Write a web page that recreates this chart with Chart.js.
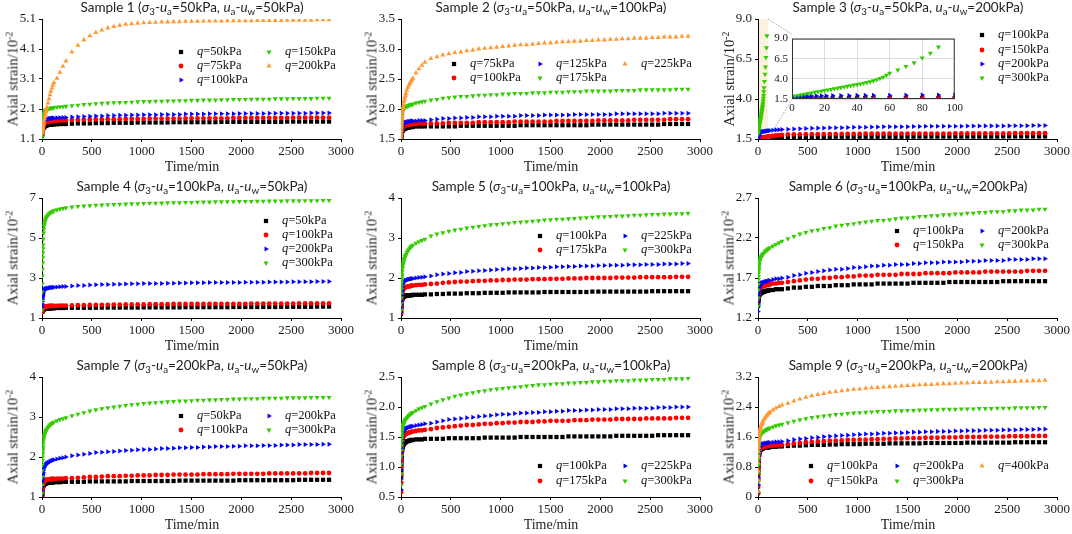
<!DOCTYPE html>
<html>
<head>
<meta charset="utf-8">
<script src="https://cdn.jsdelivr.net/npm/chart.js@4.4.0/dist/chart.umd.min.js"></script>
<style>
  html, body { margin: 0; padding: 0; background: #fff; }
  #page { position: relative; width: 1072px; height: 534px; overflow: hidden; background: #fff; }
  canvas { position: absolute; }
  .ttl { position: absolute; white-space: nowrap; transform: translate(-50%, -50%); font: 13.5px Lato, "Liberation Sans", sans-serif; color: #222; }
  .ttl sub { font-size: 72%; vertical-align: -0.3em; line-height: 0; }
  .xt { position: absolute; white-space: nowrap; transform: translate(-50%, -50%); font: 14px "Liberation Serif", serif; color: #222; }
  .yt { position: absolute; white-space: nowrap; transform: translate(-50%, -50%) rotate(-90deg); font: 14.5px "Liberation Serif", serif; color: #222; }
  .yt sup { font-size: 68%; vertical-align: 0.5em; line-height: 0; }
</style>
</head>
<body>
<div id="page"></div>
<script>
// creep tests: axial strain (10^-2) vs time (min), 9 samples
const TIME = [
  0,1,2,3,4,5,6,7,8,9,10,
  12,15,18,21,25,30,35,40,45,50,
  60,70,80,90,100,110,120,150,180,210,240,
  300,360,420,480,540,600,660,720,780,840,900,
  960,1020,1080,1140,1200,1260,1320,1380,1440,1500,1560,
  1620,1680,1740,1800,1860,1920,1980,2040,2100,2160,2220,
  2280,2340,2400,2460,2520,2580,2640,2700,2760,2820,2880
];
// sample 3, q=300kPa failed after ~90 min
const TIME_S3_Q300 = [
  0,2,4,6,8,10,12,14,16,18,20,
  22,24,26,28,30,32,34,36,38,40,
  42,44,46,48,50,52,54,56,58,60,
  65,70,75,80,85,90
];
const X_TICKS = [0, 500, 1000, 1500, 2000, 2500, 3000];

// ---- Sample 1 ----
const S1_LOADS = [50, 75, 100, 150, 200];
const S1_Q50 = [
  1.20,1.24,1.28,1.31,1.34,1.36,1.38,1.40,1.41,1.42,1.43,
  1.45,1.47,1.49,1.50,1.51,1.53,1.54,1.55,1.55,1.56,
  1.57,1.57,1.58,1.58,1.58,1.59,1.59,1.59,1.60,1.60,1.60,
  1.61,1.62,1.62,1.62,1.63,1.63,1.63,1.64,1.64,1.64,1.64,
  1.65,1.65,1.65,1.65,1.65,1.65,1.66,1.66,1.66,1.66,1.66,
  1.66,1.66,1.66,1.67,1.67,1.67,1.67,1.67,1.67,1.67,1.67,
  1.67,1.67,1.67,1.68,1.68,1.68,1.68,1.68,1.68,1.68,1.68
];
const S1_Q75 = [
  1.25,1.30,1.34,1.38,1.41,1.44,1.46,1.48,1.50,1.52,1.53,
  1.55,1.58,1.60,1.61,1.63,1.64,1.65,1.66,1.67,1.67,
  1.68,1.69,1.69,1.70,1.70,1.70,1.71,1.71,1.72,1.72,1.72,
  1.73,1.74,1.74,1.75,1.75,1.75,1.76,1.76,1.76,1.77,1.77,
  1.77,1.77,1.78,1.78,1.78,1.78,1.78,1.78,1.79,1.79,1.79,
  1.79,1.79,1.79,1.79,1.79,1.80,1.80,1.80,1.80,1.80,1.80,
  1.80,1.80,1.80,1.80,1.81,1.81,1.81,1.81,1.81,1.81,1.81
];
const S1_Q100 = [
  1.30,1.37,1.42,1.46,1.50,1.53,1.56,1.58,1.60,1.62,1.63,
  1.65,1.67,1.69,1.70,1.72,1.73,1.74,1.75,1.76,1.76,
  1.77,1.78,1.78,1.79,1.79,1.80,1.80,1.81,1.81,1.82,1.82,
  1.83,1.84,1.85,1.86,1.87,1.87,1.88,1.88,1.89,1.89,1.90,
  1.90,1.91,1.91,1.91,1.92,1.92,1.92,1.92,1.93,1.93,1.93,
  1.93,1.94,1.94,1.94,1.94,1.94,1.95,1.95,1.95,1.95,1.95,
  1.96,1.96,1.96,1.96,1.96,1.96,1.96,1.97,1.97,1.97,1.97
];
const S1_Q150 = [
  1.15,1.25,1.35,1.43,1.50,1.56,1.62,1.67,1.71,1.75,1.78,
  1.84,1.90,1.94,1.97,2.00,2.03,2.05,2.06,2.07,2.08,
  2.10,2.11,2.12,2.13,2.14,2.14,2.15,2.16,2.17,2.18,2.19,
  2.21,2.23,2.25,2.26,2.28,2.29,2.30,2.31,2.32,2.32,2.33,
  2.34,2.35,2.35,2.36,2.36,2.37,2.37,2.38,2.38,2.39,2.39,
  2.40,2.40,2.40,2.41,2.41,2.42,2.42,2.42,2.43,2.43,2.43,
  2.43,2.44,2.44,2.44,2.45,2.45,2.45,2.45,2.46,2.46,2.46
];
const S1_Q200 = [
  1.30,1.32,1.34,1.36,1.38,1.40,1.42,1.44,1.46,1.48,1.50,
  1.54,1.60,1.65,1.70,1.77,1.85,1.93,2.01,2.09,2.16,
  2.30,2.44,2.57,2.69,2.80,2.90,2.98,3.12,3.32,3.52,3.70,
  4.00,4.22,4.40,4.54,4.65,4.73,4.80,4.85,4.89,4.92,4.94,
  4.96,4.97,4.98,4.99,5.00,5.00,5.01,5.01,5.02,5.02,5.02,
  5.03,5.03,5.03,5.03,5.04,5.04,5.04,5.04,5.04,5.05,5.05,
  5.05,5.05,5.05,5.06,5.06,5.06,5.06,5.06,5.07,5.07,5.07
];
const S1_YTICKS = [1.1, 2.1, 3.1, 4.1, 5.1];
const S1_YLABELS = ["1.1", "2.1", "3.1", "4.1", "5.1"];

// ---- Sample 2 ----
const S2_LOADS = [75, 100, 125, 175, 225];
const S2_Q75 = [
  1.50,1.52,1.54,1.56,1.57,1.58,1.59,1.60,1.61,1.62,1.62,
  1.63,1.64,1.65,1.66,1.66,1.67,1.67,1.68,1.68,1.68,
  1.69,1.69,1.69,1.70,1.70,1.70,1.70,1.71,1.71,1.71,1.71,
  1.71,1.71,1.71,1.71,1.71,1.72,1.72,1.72,1.72,1.72,1.72,
  1.72,1.72,1.72,1.72,1.73,1.73,1.73,1.73,1.73,1.73,1.73,
  1.73,1.73,1.73,1.73,1.73,1.74,1.74,1.74,1.74,1.74,1.74,
  1.74,1.74,1.74,1.74,1.74,1.74,1.75,1.75,1.75,1.75,1.75
];
const S2_Q100 = [
  1.50,1.53,1.55,1.57,1.59,1.61,1.62,1.63,1.64,1.65,1.66,
  1.67,1.68,1.69,1.70,1.71,1.71,1.72,1.72,1.73,1.73,
  1.73,1.74,1.74,1.74,1.75,1.75,1.75,1.75,1.76,1.76,1.76,
  1.76,1.76,1.76,1.77,1.77,1.77,1.77,1.77,1.78,1.78,1.78,
  1.78,1.78,1.78,1.79,1.79,1.79,1.79,1.79,1.79,1.79,1.80,
  1.80,1.80,1.80,1.80,1.80,1.80,1.81,1.81,1.81,1.81,1.81,
  1.81,1.82,1.82,1.82,1.82,1.82,1.82,1.83,1.83,1.83,1.83
];
const S2_Q125 = [
  1.50,1.54,1.57,1.60,1.62,1.64,1.66,1.68,1.69,1.70,1.71,
  1.72,1.73,1.74,1.75,1.76,1.76,1.77,1.77,1.78,1.78,
  1.78,1.79,1.79,1.79,1.80,1.80,1.80,1.80,1.81,1.81,1.81,
  1.82,1.83,1.84,1.84,1.85,1.85,1.86,1.86,1.87,1.87,1.87,
  1.88,1.88,1.88,1.88,1.89,1.89,1.89,1.89,1.90,1.90,1.90,
  1.90,1.90,1.91,1.91,1.91,1.91,1.91,1.91,1.91,1.92,1.92,
  1.92,1.92,1.92,1.92,1.92,1.92,1.93,1.93,1.93,1.93,1.93
];
const S2_Q175 = [
  1.50,1.56,1.62,1.67,1.72,1.76,1.80,1.83,1.86,1.88,1.90,
  1.93,1.96,1.98,1.99,2.00,2.01,2.02,2.03,2.03,2.04,
  2.05,2.05,2.06,2.07,2.07,2.08,2.08,2.10,2.11,2.12,2.13,
  2.15,2.16,2.18,2.19,2.20,2.21,2.21,2.22,2.23,2.23,2.24,
  2.24,2.25,2.25,2.26,2.26,2.26,2.27,2.27,2.27,2.28,2.28,
  2.28,2.29,2.29,2.29,2.30,2.30,2.30,2.30,2.30,2.31,2.31,
  2.31,2.31,2.32,2.32,2.32,2.32,2.32,2.32,2.33,2.33,2.33
];
const S2_Q225 = [
  1.50,1.55,1.60,1.64,1.68,1.71,1.74,1.77,1.79,1.82,1.84,
  1.88,1.93,1.98,2.02,2.07,2.12,2.16,2.20,2.23,2.26,
  2.31,2.36,2.40,2.43,2.46,2.49,2.51,2.60,2.67,2.73,2.78,
  2.84,2.87,2.90,2.92,2.94,2.95,2.97,2.98,3.00,3.01,3.02,
  3.03,3.04,3.05,3.06,3.07,3.07,3.08,3.09,3.10,3.10,3.11,
  3.12,3.12,3.13,3.13,3.14,3.14,3.15,3.15,3.16,3.16,3.17,
  3.17,3.18,3.18,3.18,3.19,3.19,3.20,3.20,3.20,3.21,3.21
];
const S2_YTICKS = [1.5, 2.0, 2.5, 3.0, 3.5];
const S2_YLABELS = ["1.5", "2.0", "2.5", "3.0", "3.5"];

// ---- Sample 3 ----
const S3_LOADS = [100, 150, 200, 300];
const S3_Q100 = [
  1.50,1.51,1.52,1.53,1.54,1.55,1.55,1.56,1.56,1.57,1.57,
  1.57,1.58,1.58,1.59,1.59,1.59,1.60,1.60,1.60,1.60,
  1.61,1.61,1.61,1.61,1.62,1.62,1.62,1.62,1.63,1.63,1.63,
  1.63,1.63,1.63,1.63,1.63,1.63,1.63,1.63,1.64,1.64,1.64,
  1.64,1.64,1.64,1.64,1.64,1.64,1.64,1.64,1.64,1.64,1.64,
  1.65,1.65,1.65,1.65,1.65,1.65,1.65,1.65,1.65,1.65,1.65,
  1.65,1.65,1.65,1.66,1.66,1.66,1.66,1.66,1.66,1.66,1.66
];
const S3_Q150 = [
  1.50,1.50,1.51,1.51,1.52,1.52,1.53,1.53,1.53,1.54,1.54,
  1.54,1.55,1.55,1.56,1.56,1.57,1.57,1.58,1.58,1.59,
  1.60,1.61,1.62,1.63,1.64,1.65,1.66,1.69,1.72,1.74,1.76,
  1.78,1.79,1.79,1.80,1.80,1.80,1.81,1.81,1.81,1.82,1.82,
  1.82,1.82,1.83,1.83,1.83,1.83,1.83,1.83,1.84,1.84,1.84,
  1.84,1.84,1.84,1.84,1.84,1.84,1.85,1.85,1.85,1.85,1.85,
  1.85,1.85,1.85,1.85,1.85,1.86,1.86,1.86,1.86,1.86,1.86
];
const S3_Q200 = [
  1.55,1.60,1.65,1.69,1.72,1.75,1.77,1.79,1.81,1.83,1.84,
  1.86,1.88,1.90,1.91,1.92,1.93,1.94,1.95,1.95,1.96,
  1.97,1.98,1.99,2.00,2.01,2.02,2.03,2.05,2.07,2.08,2.09,
  2.11,2.13,2.14,2.16,2.17,2.18,2.19,2.20,2.21,2.21,2.22,
  2.23,2.23,2.24,2.25,2.25,2.26,2.26,2.27,2.27,2.27,2.28,
  2.28,2.29,2.29,2.29,2.30,2.30,2.30,2.30,2.31,2.31,2.31,
  2.32,2.32,2.32,2.32,2.33,2.33,2.33,2.33,2.34,2.34,2.34
];
const S3_Q300 = [
  1.80,1.88,1.95,2.03,2.10,2.18,2.25,2.33,2.40,2.48,2.55,
  2.63,2.70,2.78,2.85,2.93,3.00,3.08,3.15,3.23,3.30,
  3.38,3.46,3.55,3.64,3.76,3.90,4.05,4.22,4.45,4.70,
  5.10,5.55,6.00,6.60,7.20,7.95
];
const S3_YTICKS = [1.5, 4.0, 6.5, 9.0];
const S3_YLABELS = ["1.5", "4.0", "6.5", "9.0"];
const S3_INSET_XTICKS = [0, 20, 40, 60, 80, 100];

// ---- Sample 4 ----
const S4_LOADS = [50, 100, 200, 300];
const S4_Q50 = [
  1.30,1.32,1.33,1.35,1.36,1.37,1.38,1.39,1.40,1.41,1.41,
  1.42,1.43,1.44,1.45,1.45,1.46,1.46,1.47,1.47,1.47,
  1.48,1.48,1.48,1.49,1.49,1.49,1.49,1.50,1.50,1.50,1.51,
  1.51,1.51,1.51,1.51,1.51,1.52,1.52,1.52,1.52,1.52,1.52,
  1.52,1.53,1.53,1.53,1.53,1.53,1.53,1.53,1.54,1.54,1.54,
  1.54,1.54,1.54,1.54,1.54,1.55,1.55,1.55,1.55,1.55,1.55,
  1.55,1.55,1.56,1.56,1.56,1.56,1.56,1.56,1.57,1.57,1.57
];
const S4_Q100 = [
  1.30,1.34,1.37,1.40,1.42,1.44,1.46,1.48,1.49,1.50,1.51,
  1.52,1.54,1.55,1.56,1.57,1.57,1.58,1.58,1.59,1.59,
  1.59,1.60,1.60,1.60,1.61,1.61,1.61,1.61,1.62,1.62,1.62,
  1.63,1.64,1.64,1.65,1.66,1.66,1.66,1.67,1.67,1.68,1.68,
  1.68,1.68,1.69,1.69,1.69,1.69,1.70,1.70,1.70,1.70,1.70,
  1.70,1.71,1.71,1.71,1.71,1.71,1.71,1.71,1.72,1.72,1.72,
  1.72,1.72,1.72,1.72,1.72,1.73,1.73,1.73,1.73,1.73,1.73
];
const S4_Q200 = [
  1.40,1.56,1.70,1.82,1.92,2.00,2.07,2.13,2.18,2.22,2.25,
  2.30,2.35,2.38,2.40,2.42,2.44,2.45,2.46,2.47,2.48,
  2.49,2.50,2.51,2.52,2.53,2.53,2.54,2.55,2.56,2.57,2.58,
  2.60,2.62,2.63,2.65,2.66,2.67,2.68,2.69,2.69,2.70,2.71,
  2.71,2.72,2.72,2.73,2.73,2.74,2.74,2.75,2.75,2.76,2.76,
  2.76,2.77,2.77,2.77,2.78,2.78,2.78,2.79,2.79,2.79,2.79,
  2.80,2.80,2.80,2.80,2.81,2.81,2.81,2.81,2.82,2.82,2.82
];
const S4_Q300 = [
  1.40,1.85,2.30,2.72,3.10,3.44,3.75,4.02,4.25,4.46,4.65,
  4.95,5.25,5.45,5.60,5.72,5.83,5.92,5.98,6.04,6.08,
  6.15,6.20,6.24,6.28,6.31,6.34,6.36,6.41,6.45,6.48,6.51,
  6.55,6.58,6.60,6.62,6.64,6.65,6.67,6.68,6.69,6.70,6.71,
  6.72,6.73,6.74,6.74,6.75,6.76,6.77,6.77,6.78,6.78,6.79,
  6.80,6.80,6.81,6.81,6.82,6.82,6.83,6.83,6.83,6.84,6.84,
  6.85,6.85,6.85,6.86,6.86,6.86,6.87,6.87,6.87,6.88,6.88
];
const S4_YTICKS = [1, 3, 5, 7];
const S4_YLABELS = ["1", "3", "5", "7"];

// ---- Sample 5 ----
const S5_LOADS = [100, 175, 225, 300];
const S5_Q100 = [
  1.10,1.16,1.22,1.27,1.31,1.34,1.37,1.40,1.42,1.44,1.45,
  1.47,1.49,1.51,1.52,1.53,1.54,1.54,1.55,1.55,1.56,
  1.56,1.56,1.57,1.57,1.57,1.57,1.58,1.58,1.58,1.58,1.59,
  1.59,1.60,1.60,1.61,1.61,1.61,1.62,1.62,1.62,1.63,1.63,
  1.63,1.63,1.64,1.64,1.64,1.64,1.64,1.64,1.65,1.65,1.65,
  1.65,1.65,1.65,1.65,1.65,1.66,1.66,1.66,1.66,1.66,1.66,
  1.66,1.66,1.66,1.66,1.67,1.67,1.67,1.67,1.67,1.67,1.67
];
const S5_Q175 = [
  1.12,1.20,1.28,1.35,1.40,1.45,1.49,1.52,1.55,1.58,1.60,
  1.63,1.66,1.69,1.71,1.73,1.74,1.75,1.76,1.77,1.77,
  1.78,1.79,1.79,1.80,1.80,1.81,1.81,1.82,1.83,1.83,1.84,
  1.85,1.86,1.88,1.89,1.90,1.91,1.91,1.92,1.93,1.93,1.94,
  1.94,1.95,1.95,1.96,1.96,1.96,1.97,1.97,1.97,1.98,1.98,
  1.98,1.99,1.99,1.99,2.00,2.00,2.00,2.00,2.00,2.01,2.01,
  2.01,2.01,2.02,2.02,2.02,2.02,2.02,2.02,2.03,2.03,2.03
];
const S5_Q225 = [
  1.15,1.25,1.35,1.43,1.50,1.56,1.61,1.65,1.69,1.72,1.75,
  1.79,1.83,1.86,1.88,1.90,1.91,1.92,1.93,1.94,1.94,
  1.95,1.96,1.97,1.97,1.98,1.98,1.99,2.00,2.01,2.02,2.03,
  2.05,2.08,2.10,2.11,2.13,2.14,2.16,2.17,2.18,2.19,2.20,
  2.21,2.22,2.23,2.23,2.24,2.25,2.25,2.26,2.26,2.27,2.28,
  2.28,2.29,2.29,2.30,2.30,2.30,2.31,2.31,2.32,2.32,2.32,
  2.33,2.33,2.33,2.34,2.34,2.34,2.35,2.35,2.35,2.36,2.36
];
const S5_Q300 = [
  1.20,1.36,1.50,1.62,1.72,1.80,1.88,1.94,2.00,2.05,2.09,
  2.16,2.24,2.30,2.35,2.40,2.45,2.49,2.53,2.56,2.59,
  2.64,2.68,2.72,2.75,2.78,2.80,2.82,2.87,2.91,2.94,2.97,
  3.05,3.10,3.13,3.17,3.20,3.22,3.25,3.27,3.29,3.31,3.33,
  3.34,3.36,3.37,3.39,3.40,3.41,3.42,3.43,3.45,3.46,3.47,
  3.47,3.48,3.49,3.50,3.51,3.52,3.53,3.53,3.54,3.55,3.55,
  3.56,3.57,3.57,3.58,3.59,3.59,3.60,3.60,3.61,3.61,3.62
];
const S5_YTICKS = [1, 2, 3, 4];
const S5_YLABELS = ["1", "2", "3", "4"];

// ---- Sample 6 ----
const S6_LOADS = [100, 150, 200, 300];
const S6_Q100 = [
  1.35,1.38,1.40,1.42,1.43,1.44,1.45,1.46,1.47,1.47,1.48,
  1.49,1.49,1.50,1.50,1.51,1.51,1.52,1.52,1.52,1.53,
  1.53,1.53,1.54,1.54,1.54,1.55,1.55,1.55,1.56,1.56,1.56,
  1.57,1.58,1.58,1.59,1.59,1.60,1.60,1.60,1.61,1.61,1.61,
  1.62,1.62,1.62,1.62,1.63,1.63,1.63,1.63,1.63,1.63,1.64,
  1.64,1.64,1.64,1.64,1.64,1.65,1.65,1.65,1.65,1.65,1.65,
  1.65,1.65,1.65,1.66,1.66,1.66,1.66,1.66,1.66,1.66,1.66
];
const S6_Q150 = [
  1.40,1.43,1.46,1.48,1.50,1.51,1.52,1.53,1.54,1.55,1.55,
  1.56,1.57,1.57,1.58,1.58,1.59,1.59,1.59,1.60,1.60,
  1.60,1.61,1.61,1.61,1.62,1.62,1.62,1.63,1.63,1.64,1.64,
  1.65,1.66,1.67,1.68,1.69,1.69,1.70,1.70,1.71,1.71,1.72,
  1.72,1.73,1.73,1.73,1.74,1.74,1.74,1.74,1.75,1.75,1.75,
  1.75,1.76,1.76,1.76,1.76,1.76,1.77,1.77,1.77,1.77,1.77,
  1.78,1.78,1.78,1.78,1.78,1.78,1.78,1.79,1.79,1.79,1.79
];
const S6_Q200 = [
  1.28,1.35,1.40,1.44,1.48,1.51,1.53,1.55,1.56,1.57,1.58,
  1.59,1.60,1.61,1.62,1.62,1.63,1.63,1.64,1.64,1.64,
  1.65,1.65,1.66,1.66,1.66,1.67,1.67,1.68,1.69,1.69,1.70,
  1.71,1.73,1.74,1.76,1.77,1.78,1.79,1.80,1.81,1.81,1.82,
  1.83,1.83,1.84,1.85,1.85,1.86,1.86,1.87,1.87,1.87,1.88,
  1.88,1.89,1.89,1.89,1.90,1.90,1.90,1.90,1.91,1.91,1.91,
  1.92,1.92,1.92,1.92,1.93,1.93,1.93,1.93,1.94,1.94,1.94
];
const S6_Q300 = [
  1.35,1.45,1.55,1.62,1.68,1.72,1.76,1.79,1.81,1.83,1.85,
  1.87,1.90,1.92,1.93,1.95,1.96,1.97,1.98,1.99,2.00,
  2.01,2.03,2.04,2.05,2.06,2.07,2.08,2.10,2.12,2.14,2.16,
  2.19,2.22,2.25,2.27,2.29,2.30,2.32,2.33,2.35,2.36,2.37,
  2.38,2.39,2.40,2.41,2.42,2.42,2.43,2.44,2.45,2.45,2.46,
  2.47,2.47,2.48,2.48,2.49,2.49,2.50,2.50,2.51,2.51,2.52,
  2.52,2.53,2.53,2.53,2.54,2.54,2.55,2.55,2.55,2.56,2.56
];
const S6_YTICKS = [1.2, 1.7, 2.2, 2.7];
const S6_YLABELS = ["1.2", "1.7", "2.2", "2.7"];

// ---- Sample 7 ----
const S7_LOADS = [50, 100, 200, 300];
const S7_Q50 = [
  1.00,1.04,1.08,1.11,1.14,1.17,1.19,1.21,1.22,1.24,1.25,
  1.27,1.29,1.30,1.31,1.32,1.33,1.34,1.34,1.35,1.35,
  1.35,1.36,1.36,1.36,1.36,1.37,1.37,1.37,1.37,1.38,1.38,
  1.38,1.38,1.38,1.39,1.39,1.39,1.39,1.39,1.39,1.39,1.40,
  1.40,1.40,1.40,1.40,1.40,1.40,1.40,1.41,1.41,1.41,1.41,
  1.41,1.41,1.41,1.41,1.41,1.41,1.42,1.42,1.42,1.42,1.42,
  1.42,1.42,1.42,1.42,1.42,1.43,1.43,1.43,1.43,1.43,1.43
];
const S7_Q100 = [
  1.02,1.07,1.12,1.16,1.20,1.23,1.26,1.28,1.30,1.32,1.33,
  1.35,1.37,1.39,1.40,1.41,1.42,1.42,1.43,1.43,1.43,
  1.44,1.44,1.44,1.45,1.45,1.45,1.45,1.46,1.46,1.46,1.47,
  1.47,1.48,1.49,1.50,1.50,1.51,1.52,1.52,1.52,1.53,1.53,
  1.54,1.54,1.54,1.55,1.55,1.55,1.56,1.56,1.56,1.56,1.56,
  1.57,1.57,1.57,1.57,1.57,1.58,1.58,1.58,1.58,1.58,1.58,
  1.59,1.59,1.59,1.59,1.59,1.59,1.59,1.60,1.60,1.60,1.60
];
const S7_Q200 = [
  1.05,1.15,1.25,1.33,1.40,1.45,1.50,1.54,1.57,1.60,1.62,
  1.66,1.70,1.73,1.75,1.77,1.79,1.81,1.82,1.83,1.84,
  1.86,1.87,1.89,1.90,1.91,1.92,1.93,1.95,1.97,1.98,2.00,
  2.03,2.05,2.07,2.09,2.11,2.12,2.13,2.14,2.15,2.16,2.17,
  2.18,2.19,2.19,2.20,2.21,2.21,2.22,2.23,2.23,2.24,2.24,
  2.25,2.25,2.26,2.26,2.26,2.27,2.27,2.28,2.28,2.28,2.29,
  2.29,2.29,2.30,2.30,2.30,2.31,2.31,2.31,2.31,2.32,2.32
];
const S7_Q300 = [
  1.10,1.30,1.50,1.66,1.80,1.91,2.00,2.08,2.15,2.20,2.25,
  2.33,2.41,2.47,2.52,2.56,2.60,2.63,2.66,2.68,2.70,
  2.74,2.77,2.80,2.82,2.84,2.86,2.87,2.91,2.94,2.96,2.98,
  3.03,3.07,3.11,3.15,3.18,3.21,3.23,3.25,3.27,3.29,3.31,
  3.32,3.34,3.35,3.36,3.37,3.38,3.39,3.40,3.40,3.41,3.42,
  3.42,3.43,3.43,3.44,3.44,3.45,3.45,3.46,3.46,3.46,3.47,
  3.47,3.47,3.47,3.48,3.48,3.48,3.48,3.49,3.49,3.49,3.49
];
const S7_YTICKS = [1, 2, 3, 4];
const S7_YLABELS = ["1", "2", "3", "4"];

// ---- Sample 8 ----
const S8_LOADS = [100, 175, 225, 300];
const S8_Q100 = [
  0.60,0.73,0.85,0.94,1.02,1.08,1.13,1.17,1.20,1.23,1.25,
  1.29,1.32,1.34,1.36,1.37,1.39,1.40,1.41,1.41,1.42,
  1.43,1.43,1.44,1.44,1.45,1.45,1.45,1.46,1.46,1.46,1.47,
  1.47,1.47,1.47,1.48,1.48,1.48,1.48,1.48,1.48,1.49,1.49,
  1.49,1.49,1.49,1.49,1.50,1.50,1.50,1.50,1.50,1.50,1.50,
  1.50,1.51,1.51,1.51,1.51,1.51,1.51,1.51,1.51,1.52,1.52,
  1.52,1.52,1.52,1.52,1.52,1.53,1.53,1.53,1.53,1.53,1.53
];
const S8_Q175 = [
  0.58,0.74,0.88,0.99,1.08,1.15,1.21,1.26,1.30,1.33,1.36,
  1.40,1.44,1.47,1.49,1.51,1.52,1.53,1.54,1.55,1.55,
  1.56,1.57,1.57,1.58,1.58,1.59,1.59,1.60,1.61,1.61,1.62,
  1.63,1.65,1.66,1.67,1.68,1.69,1.70,1.70,1.71,1.72,1.72,
  1.73,1.73,1.74,1.74,1.75,1.75,1.75,1.76,1.76,1.77,1.77,
  1.77,1.77,1.78,1.78,1.78,1.79,1.79,1.79,1.79,1.80,1.80,
  1.80,1.80,1.80,1.81,1.81,1.81,1.81,1.81,1.82,1.82,1.82
];
const S8_Q225 = [
  0.62,0.80,0.95,1.07,1.17,1.25,1.31,1.36,1.40,1.43,1.46,
  1.50,1.54,1.57,1.59,1.60,1.61,1.62,1.63,1.64,1.64,
  1.65,1.66,1.66,1.67,1.67,1.68,1.68,1.69,1.70,1.71,1.72,
  1.73,1.75,1.77,1.79,1.80,1.81,1.82,1.83,1.84,1.85,1.86,
  1.87,1.88,1.88,1.89,1.90,1.90,1.91,1.91,1.92,1.92,1.93,
  1.93,1.94,1.94,1.94,1.95,1.95,1.96,1.96,1.96,1.97,1.97,
  1.97,1.98,1.98,1.98,1.98,1.99,1.99,1.99,2.00,2.00,2.00
];
const S8_Q300 = [
  0.70,0.89,1.05,1.18,1.28,1.36,1.42,1.47,1.51,1.54,1.57,
  1.61,1.65,1.68,1.70,1.72,1.74,1.76,1.77,1.79,1.80,
  1.82,1.84,1.86,1.87,1.89,1.90,1.91,1.94,1.97,1.99,2.01,
  2.05,2.09,2.12,2.15,2.18,2.20,2.22,2.24,2.26,2.27,2.29,
  2.30,2.31,2.32,2.33,2.34,2.35,2.36,2.37,2.37,2.38,2.39,
  2.39,2.40,2.40,2.41,2.41,2.42,2.42,2.43,2.43,2.44,2.44,
  2.44,2.45,2.45,2.45,2.46,2.46,2.46,2.47,2.47,2.47,2.48
];
const S8_YTICKS = [0.5, 1.0, 1.5, 2.0, 2.5];
const S8_YLABELS = ["0.5", "1.0", "1.5", "2.0", "2.5"];

// ---- Sample 9 ----
const S9_LOADS = [100, 150, 200, 300, 400];
const S9_Q100 = [
  0.10,0.28,0.45,0.60,0.72,0.82,0.90,0.97,1.02,1.07,1.10,
  1.15,1.19,1.22,1.24,1.26,1.27,1.28,1.29,1.29,1.30,
  1.31,1.31,1.32,1.32,1.32,1.33,1.33,1.34,1.34,1.35,1.35,
  1.36,1.37,1.37,1.38,1.39,1.39,1.39,1.40,1.40,1.41,1.41,
  1.41,1.41,1.42,1.42,1.42,1.42,1.43,1.43,1.43,1.43,1.43,
  1.43,1.44,1.44,1.44,1.44,1.44,1.44,1.44,1.45,1.45,1.45,
  1.45,1.45,1.45,1.45,1.45,1.46,1.46,1.46,1.46,1.46,1.46
];
const S9_Q150 = [
  0.10,0.30,0.48,0.63,0.76,0.86,0.95,1.02,1.07,1.12,1.15,
  1.20,1.24,1.27,1.29,1.30,1.31,1.32,1.33,1.33,1.34,
  1.34,1.35,1.35,1.36,1.36,1.36,1.37,1.37,1.38,1.38,1.39,
  1.41,1.43,1.44,1.46,1.47,1.48,1.49,1.50,1.50,1.51,1.52,
  1.52,1.53,1.53,1.54,1.54,1.55,1.55,1.56,1.56,1.57,1.57,
  1.57,1.58,1.58,1.58,1.59,1.59,1.59,1.60,1.60,1.60,1.60,
  1.61,1.61,1.61,1.61,1.62,1.62,1.62,1.62,1.63,1.63,1.63
];
const S9_Q200 = [
  0.12,0.33,0.52,0.68,0.82,0.93,1.02,1.09,1.15,1.20,1.23,
  1.28,1.32,1.35,1.37,1.38,1.39,1.40,1.41,1.41,1.42,
  1.42,1.43,1.43,1.44,1.44,1.45,1.45,1.46,1.47,1.47,1.48,
  1.50,1.53,1.55,1.56,1.58,1.59,1.61,1.62,1.63,1.64,1.65,
  1.66,1.67,1.68,1.68,1.69,1.70,1.70,1.71,1.71,1.72,1.73,
  1.73,1.74,1.74,1.75,1.75,1.75,1.76,1.76,1.77,1.77,1.77,
  1.78,1.78,1.78,1.79,1.79,1.79,1.80,1.80,1.80,1.81,1.81
];
const S9_Q300 = [
  0.15,0.42,0.65,0.84,1.00,1.12,1.22,1.30,1.36,1.41,1.45,
  1.51,1.56,1.60,1.63,1.65,1.67,1.69,1.71,1.72,1.73,
  1.75,1.77,1.79,1.80,1.82,1.83,1.84,1.87,1.90,1.92,1.94,
  1.98,2.02,2.06,2.09,2.12,2.14,2.16,2.18,2.20,2.21,2.23,
  2.24,2.25,2.26,2.27,2.28,2.28,2.29,2.30,2.30,2.31,2.31,
  2.32,2.32,2.33,2.33,2.34,2.34,2.34,2.35,2.35,2.35,2.36,
  2.36,2.36,2.37,2.37,2.37,2.38,2.38,2.38,2.38,2.39,2.39
];
const S9_Q400 = [
  0.15,0.45,0.70,0.91,1.08,1.21,1.32,1.40,1.47,1.52,1.57,
  1.64,1.71,1.77,1.81,1.85,1.89,1.93,1.96,1.99,2.02,
  2.07,2.11,2.15,2.18,2.21,2.24,2.26,2.32,2.37,2.41,2.45,
  2.50,2.56,2.61,2.66,2.70,2.73,2.76,2.79,2.81,2.83,2.85,
  2.87,2.88,2.90,2.91,2.92,2.93,2.94,2.95,2.96,2.97,2.98,
  2.99,3.00,3.00,3.01,3.02,3.02,3.03,3.04,3.04,3.05,3.05,
  3.06,3.06,3.07,3.07,3.08,3.08,3.09,3.09,3.10,3.10,3.11
];
const S9_YTICKS = [0, 0.8, 1.6, 2.4, 3.2];
const S9_YLABELS = ["0", "0.8", "1.6", "2.4", "3.2"];

// marker per load rank: square, circle, right / down / up triangle
const MARKERS = [
  { color: "#000000", style: "rect", rot: 0, r: 3.0 },
  { color: "#ff0000", style: "circle", rot: 0, r: 2.4 },
  { color: "#0000ff", style: "triangle", rot: 90, r: 2.9 },
  { color: "#33cc00", style: "triangle", rot: 180, r: 2.9 },
  { color: "#ff9933", style: "triangle", rot: 0, r: 2.9 },
];

const PANELS = [
  { n: 1, net: 50, suc: 50, loads: S1_LOADS, series: [S1_Q50, S1_Q75, S1_Q100, S1_Q150, S1_Q200], ticks: S1_YTICKS, labels: S1_YLABELS,
    legend: [[139, 33], [139, 47], [139, 61], [227, 33], [227, 47]] },
  { n: 2, net: 50, suc: 100, loads: S2_LOADS, series: [S2_Q75, S2_Q100, S2_Q125, S2_Q175, S2_Q225], ticks: S2_YTICKS, labels: S2_YLABELS,
    legend: [[53, 45], [53, 59], [139, 45], [139, 59], [224, 45]] },
  { n: 3, net: 50, suc: 200, loads: S3_LOADS, series: [S3_Q100, S3_Q150, S3_Q200, S3_Q300], ticks: S3_YTICKS, labels: S3_YLABELS,
    times: [TIME, TIME, TIME, TIME_S3_Q300], legend: [[224, 16], [224, 31], [224, 45], [224, 59]], zoom: 100 },
  { n: 4, net: 100, suc: 50, loads: S4_LOADS, series: [S4_Q50, S4_Q100, S4_Q200, S4_Q300], ticks: S4_YTICKS, labels: S4_YLABELS,
    legend: [[224, 23], [224, 37], [224, 51], [224, 65]] },
  { n: 5, net: 100, suc: 100, loads: S5_LOADS, series: [S5_Q100, S5_Q175, S5_Q225, S5_Q300], ticks: S5_YTICKS, labels: S5_YLABELS,
    legend: [[139, 38], [139, 52], [224, 38], [224, 52]] },
  { n: 6, net: 100, suc: 200, loads: S6_LOADS, series: [S6_Q100, S6_Q150, S6_Q200, S6_Q300], ticks: S6_YTICKS, labels: S6_YLABELS,
    legend: [[139, 33], [139, 47], [224, 33], [224, 47]] },
  { n: 7, net: 200, suc: 50, loads: S7_LOADS, series: [S7_Q50, S7_Q100, S7_Q200, S7_Q300], ticks: S7_YTICKS, labels: S7_YLABELS,
    legend: [[139, 39], [139, 53], [227, 39], [227, 53]] },
  { n: 8, net: 200, suc: 100, loads: S8_LOADS, series: [S8_Q100, S8_Q175, S8_Q225, S8_Q300], ticks: S8_YTICKS, labels: S8_YLABELS,
    legend: [[139, 89], [139, 104], [224, 89], [224, 104]] },
  { n: 9, net: 200, suc: 200, loads: S9_LOADS, series: [S9_Q100, S9_Q150, S9_Q200, S9_Q300, S9_Q400], ticks: S9_YTICKS, labels: S9_YLABELS,
    legend: [[53, 89], [53, 104], [139, 89], [139, 104], [224, 89]] },
];

// layout of the 3x3 grid (canvas boxes)
const COL_LEFT = [0, 359, 716];
const ROW_TOP = [0, 179, 358];
const CW = 356, CH = 177, AX_W = 42, AX_H = 38, PAD_TOP = 19, PAD_RIGHT = 14;

Chart.defaults.font.family = '"Liberation Serif", "Times New Roman", serif';
Chart.defaults.font.size = 13;
Chart.defaults.color = "#1a1a1a";

function drawMarker(ctx, m, x, y) {
  ctx.save();
  ctx.translate(x, y);
  ctx.rotate((m.rot * Math.PI) / 180);
  ctx.fillStyle = m.color;
  ctx.beginPath();
  if (m.style === "rect") {
    const s = m.r * Math.SQRT1_2;
    ctx.rect(-s, -s, 2 * s, 2 * s);
  } else if (m.style === "circle") {
    ctx.arc(0, 0, m.r, 0, Math.PI * 2);
  } else {
    ctx.moveTo(0, -m.r);
    ctx.lineTo(m.r * 0.866, m.r * 0.5);
    ctx.lineTo(-m.r * 0.866, m.r * 0.5);
    ctx.closePath();
  }
  ctx.fill();
  ctx.restore();
}

// legend drawn inside the plot, "q" in italics
const qLegend = {
  id: "qLegend",
  afterDatasetsDraw(chart, args, opts) {
    if (!opts.items) return;
    const ctx = chart.ctx, a = chart.chartArea;
    ctx.save();
    ctx.textBaseline = "middle";
    opts.items.forEach((it) => {
      const x = a.left + it.x, y = a.top + it.y;
      drawMarker(ctx, it.marker, x, y);
      ctx.fillStyle = "#111";
      let tx = x + 16;
      ctx.font = 'italic 12.5px "Liberation Serif", serif';
      ctx.fillText("q", tx, y);
      tx += ctx.measureText("q").width;
      ctx.font = '12.5px "Liberation Serif", serif';
      ctx.fillText("=" + it.load + "kPa", tx, y);
    });
    ctx.restore();
  },
};

// shaded 0-100 min band of sample 3 and dotted leaders to the inset
const zoomBox = {
  id: "zoomBox",
  beforeDatasetsDraw(chart, args, o) {
    if (!o.to) return;
    const ctx = chart.ctx, a = chart.chartArea, xs = chart.scales.x;
    const x0 = xs.getPixelForValue(0), x1 = xs.getPixelForValue(o.to);
    ctx.save();
    ctx.fillStyle = "#fcf1dc";
    ctx.fillRect(x0 + 1, a.top, x1 - x0 - 1, a.bottom - a.top);
    ctx.restore();
  },
  afterDatasetsDraw(chart, args, o) {
    if (!o.to) return;
    const ctx = chart.ctx, a = chart.chartArea, xs = chart.scales.x;
    const x1 = xs.getPixelForValue(o.to);
    ctx.save();
    ctx.strokeStyle = "#8a8a8a";
    ctx.lineWidth = 0.8;
    ctx.setLineDash([1.5, 1.5]);
    ctx.beginPath();
    ctx.moveTo(x1, a.top);
    ctx.lineTo(o.target.left, o.target.top);
    ctx.moveTo(x1, a.bottom);
    ctx.lineTo(o.target.left, o.target.bottom);
    ctx.stroke();
    ctx.restore();
  },
};

const insetFrame = {
  id: "insetFrame",
  beforeDraw(chart) {
    const a = chart.chartArea, ctx = chart.ctx;
    ctx.save();
    ctx.fillStyle = "#ffffff";
    ctx.fillRect(a.left, a.top, a.right - a.left, a.bottom - a.top);
    ctx.restore();
  },
  afterDraw(chart) {
    const a = chart.chartArea, ctx = chart.ctx;
    ctx.save();
    ctx.strokeStyle = "#333";
    ctx.lineWidth = 1;
    ctx.strokeRect(a.left + 0.5, a.top + 0.5, a.right - a.left - 1, a.bottom - a.top - 1);
    ctx.restore();
  },
};

function makeDatasets(p) {
  return p.series.map((arr, i) => {
    const t = p.times ? p.times[i] : TIME;
    const m = MARKERS[i];
    return {
      data: t.map((x, j) => ({ x: x, y: arr[j] })),
      showLine: false,
      pointStyle: m.style,
      pointRotation: m.rot,
      pointRadius: m.r,
      pointBorderWidth: 0,
      pointBackgroundColor: m.color,
      pointBorderColor: m.color,
      order: -i,
    };
  });
}

const page = document.getElementById("page");

function addText(cls, html, x, y) {
  const d = document.createElement("div");
  d.className = cls;
  d.innerHTML = html;
  d.style.left = x + "px";
  d.style.top = y + "px";
  page.appendChild(d);
}

PANELS.forEach((p, k) => {
  const left = COL_LEFT[k % 3], top = ROW_TOP[Math.floor(k / 3)];
  const cv = document.createElement("canvas");
  cv.width = CW;
  cv.height = CH;
  cv.style.left = left + "px";
  cv.style.top = top + "px";
  page.appendChild(cv);

  const plotL = left + AX_W, plotT = top + PAD_TOP;
  const plotW = CW - AX_W - PAD_RIGHT, plotH = CH - PAD_TOP - AX_H;

  const items = p.legend.map((pos, i) => ({ x: pos[0], y: pos[1], load: p.loads[i], marker: MARKERS[i] }));

  new Chart(cv, {
    type: "scatter",
    data: { datasets: makeDatasets(p) },
    plugins: [qLegend, zoomBox],
    options: {
      responsive: false,
      animation: false,
      events: [],
      layout: { padding: { top: PAD_TOP, right: PAD_RIGHT, left: 0, bottom: 0 } },
      plugins: {
        legend: { display: false },
        tooltip: { enabled: false },
        qLegend: { items: items },
        zoomBox: p.zoom ? { to: p.zoom, target: { left: 76, top: 34.3, bottom: 99.3 } } : {},
      },
      scales: {
        x: {
          type: "linear",
          min: 0,
          max: 3000,
          afterBuildTicks: (s) => { s.ticks = X_TICKS.map((v) => ({ value: v })); },
          afterFit: (s) => { s.height = AX_H; },
          ticks: { autoSkip: false, maxRotation: 0, padding: 2, callback: (v) => String(v) },
          grid: { drawOnChartArea: false, tickLength: 3, color: "#000" },
          border: { color: "#000", width: 1 },
        },
        y: {
          type: "linear",
          min: p.ticks[0],
          max: p.ticks[p.ticks.length - 1],
          afterBuildTicks: (s) => { s.ticks = p.ticks.map((v) => ({ value: v })); },
          afterFit: (s) => { s.width = AX_W; },
          ticks: { autoSkip: false, padding: 3, callback: (v, i) => p.labels[i] },
          grid: { drawOnChartArea: false, tickLength: 3, color: "#000" },
          border: { color: "#000", width: 1 },
        },
      },
    },
  });

  addText("ttl",
    `Sample ${p.n} (<i>σ</i><sub>3</sub>-<i>u</i><sub>a</sub>=${p.net}kPa, <i>u</i><sub>a</sub>-<i>u</i><sub>w</sub>=${p.suc}kPa)`,
    plotL + plotW / 2, plotT - 12);
  addText("xt", "Time/min", plotL + plotW / 2, plotT + plotH + 28);
  addText("yt", "Axial strain/10<sup>-2</sup>", left + 13, plotT + plotH / 2);
});

// inset of sample 3: first 100 minutes
(function () {
  const p = PANELS[2];
  const cv = document.createElement("canvas");
  cv.width = 204;
  cv.height = 88;
  cv.style.left = "762px";
  cv.style.top = "28px";
  page.appendChild(cv);
  const ds = makeDatasets(p);
  new Chart(cv, {
    type: "scatter",
    data: { datasets: ds },
    plugins: [insetFrame],
    options: {
      responsive: false,
      animation: false,
      events: [],
      layout: { padding: { top: 6, right: 7, left: 0, bottom: 0 } },
      plugins: { legend: { display: false }, tooltip: { enabled: false } },
      scales: {
        x: {
          type: "linear",
          min: 0,
          max: 100,
          afterBuildTicks: (s) => { s.ticks = S3_INSET_XTICKS.map((v) => ({ value: v })); },
          afterFit: (s) => { s.height = 17; },
          ticks: { autoSkip: false, maxRotation: 0, padding: 3, font: { size: 11 }, callback: (v) => String(v) },
          grid: { color: "#dcdcdc", drawTicks: false },
          border: { display: false },
        },
        y: {
          type: "linear",
          min: 1.5,
          max: 9.0,
          afterBuildTicks: (s) => { s.ticks = S3_YTICKS.map((v) => ({ value: v })); },
          afterFit: (s) => { s.width = 30; },
          ticks: { autoSkip: false, padding: 4, font: { size: 11 }, callback: (v, i) => S3_YLABELS[i] },
          grid: { color: "#dcdcdc", drawTicks: false },
          border: { display: false },
        },
      },
    },
  });
})();
</script>
</body>
</html>
